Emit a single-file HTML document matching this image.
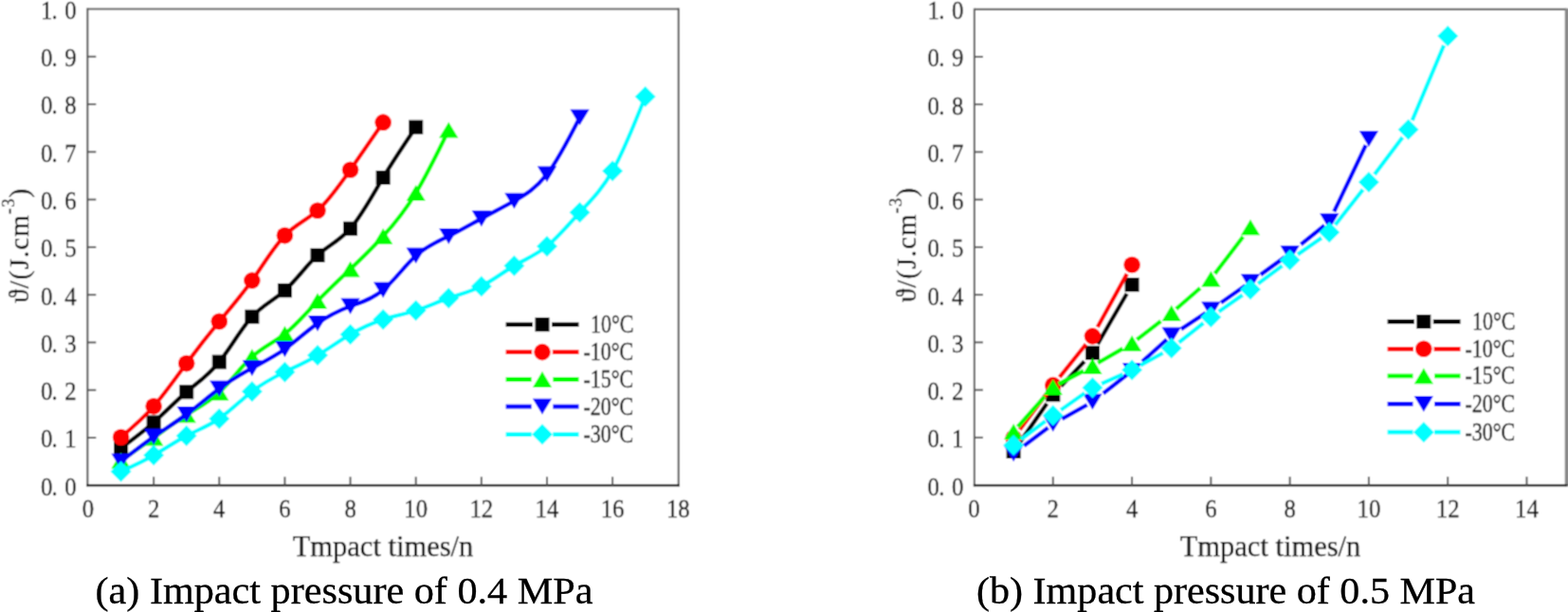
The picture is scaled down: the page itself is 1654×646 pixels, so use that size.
<!DOCTYPE html>
<html><head><meta charset="utf-8"><title>Impact pressure charts</title>
<style>
html,body{margin:0;padding:0;background:#fff;}
body{width:1654px;height:646px;overflow:hidden;}
svg{display:block;}
#w{width:1654px;height:646px;}
text{font-family:"Liberation Serif","DejaVu Serif",serif;fill:#1a1a1a;}
.tk{font-size:27.5px;fill:#111;stroke:#111;stroke-width:0.3px;}
.lg{font-size:26.5px;fill:#000;stroke:#000;stroke-width:0.3px;}
.xt{font-size:30.5px;fill:#000;stroke:#000;stroke-width:0.25px;}
.yt{font-size:29px;fill:#000;stroke:#000;stroke-width:0.25px;}
.sup{font-size:18px;}
.cap{font-size:41px;fill:#000;stroke:#000;stroke-width:0.3px;}
</style></head>
<body>
<div id="w">
<svg width="1654" height="646" viewBox="0 0 1654 646">
<defs><filter id="bl" x="0" y="0" width="1654" height="646" filterUnits="userSpaceOnUse"><feConvolveMatrix order="3" kernelMatrix="1 2 1 2 5 2 1 2 1" divisor="17" edgeMode="duplicate" preserveAlpha="true"/></filter></defs>
<rect width="1654" height="646" fill="#fff"/>
<g filter="url(#bl)">
<rect width="1654" height="646" fill="#fff"/>
<line x1="92.3" y1="9.5" x2="715.8" y2="9.5" stroke="#606060" stroke-width="2.2"/>
<line x1="92.3" y1="8.5" x2="92.3" y2="513.3" stroke="#606060" stroke-width="2.2"/>
<line x1="715.8" y1="8.5" x2="715.8" y2="513.3" stroke="#606060" stroke-width="2.2"/>
<line x1="91.3" y1="512.3" x2="716.8" y2="512.3" stroke="#1a1a1a" stroke-width="2.5"/>
<line x1="92.3" y1="462.02" x2="101.3" y2="462.02" stroke="#555" stroke-width="2"/>
<line x1="92.3" y1="411.74" x2="101.3" y2="411.74" stroke="#555" stroke-width="2"/>
<line x1="92.3" y1="361.46" x2="101.3" y2="361.46" stroke="#555" stroke-width="2"/>
<line x1="92.3" y1="311.18" x2="101.3" y2="311.18" stroke="#555" stroke-width="2"/>
<line x1="92.3" y1="260.90" x2="101.3" y2="260.90" stroke="#555" stroke-width="2"/>
<line x1="92.3" y1="210.62" x2="101.3" y2="210.62" stroke="#555" stroke-width="2"/>
<line x1="92.3" y1="160.34" x2="101.3" y2="160.34" stroke="#555" stroke-width="2"/>
<line x1="92.3" y1="110.06" x2="101.3" y2="110.06" stroke="#555" stroke-width="2"/>
<line x1="92.3" y1="59.78" x2="101.3" y2="59.78" stroke="#555" stroke-width="2"/>
<line x1="162.14" y1="512.3" x2="162.14" y2="503.29999999999995" stroke="#555" stroke-width="2"/>
<line x1="231.28" y1="512.3" x2="231.28" y2="503.29999999999995" stroke="#555" stroke-width="2"/>
<line x1="300.42" y1="512.3" x2="300.42" y2="503.29999999999995" stroke="#555" stroke-width="2"/>
<line x1="369.56" y1="512.3" x2="369.56" y2="503.29999999999995" stroke="#555" stroke-width="2"/>
<line x1="438.70" y1="512.3" x2="438.70" y2="503.29999999999995" stroke="#555" stroke-width="2"/>
<line x1="507.84" y1="512.3" x2="507.84" y2="503.29999999999995" stroke="#555" stroke-width="2"/>
<line x1="576.98" y1="512.3" x2="576.98" y2="503.29999999999995" stroke="#555" stroke-width="2"/>
<line x1="646.12" y1="512.3" x2="646.12" y2="503.29999999999995" stroke="#555" stroke-width="2"/>
<text class="tk" x="-54.89 -41.89 -26.67" y="0" transform="translate(92.3,522.70) scale(0.9,1)">0.0</text>
<text class="tk" x="-54.89 -41.89 -26.67" y="0" transform="translate(92.3,472.42) scale(0.9,1)">0.1</text>
<text class="tk" x="-54.89 -41.89 -26.67" y="0" transform="translate(92.3,422.14) scale(0.9,1)">0.2</text>
<text class="tk" x="-54.89 -41.89 -26.67" y="0" transform="translate(92.3,371.86) scale(0.9,1)">0.3</text>
<text class="tk" x="-54.89 -41.89 -26.67" y="0" transform="translate(92.3,321.58) scale(0.9,1)">0.4</text>
<text class="tk" x="-54.89 -41.89 -26.67" y="0" transform="translate(92.3,271.30) scale(0.9,1)">0.5</text>
<text class="tk" x="-54.89 -41.89 -26.67" y="0" transform="translate(92.3,221.02) scale(0.9,1)">0.6</text>
<text class="tk" x="-54.89 -41.89 -26.67" y="0" transform="translate(92.3,170.74) scale(0.9,1)">0.7</text>
<text class="tk" x="-54.89 -41.89 -26.67" y="0" transform="translate(92.3,120.46) scale(0.9,1)">0.8</text>
<text class="tk" x="-54.89 -41.89 -26.67" y="0" transform="translate(92.3,70.18) scale(0.9,1)">0.9</text>
<text class="tk" x="-54.89 -41.89 -26.67" y="0" transform="translate(92.3,19.90) scale(0.9,1)">1.0</text>
<text class="tk" x="0" y="0" text-anchor="middle" transform="translate(93.00,546) scale(0.9,1)">0</text>
<text class="tk" x="0" y="0" text-anchor="middle" transform="translate(162.14,546) scale(0.9,1)">2</text>
<text class="tk" x="0" y="0" text-anchor="middle" transform="translate(231.28,546) scale(0.9,1)">4</text>
<text class="tk" x="0" y="0" text-anchor="middle" transform="translate(300.42,546) scale(0.9,1)">6</text>
<text class="tk" x="0" y="0" text-anchor="middle" transform="translate(369.56,546) scale(0.9,1)">8</text>
<text class="tk" x="0" y="0" text-anchor="middle" transform="translate(438.70,546) scale(0.9,1)">10</text>
<text class="tk" x="0" y="0" text-anchor="middle" transform="translate(507.84,546) scale(0.9,1)">12</text>
<text class="tk" x="0" y="0" text-anchor="middle" transform="translate(576.98,546) scale(0.9,1)">14</text>
<text class="tk" x="0" y="0" text-anchor="middle" transform="translate(646.12,546) scale(0.9,1)">16</text>
<text class="tk" x="0" y="0" text-anchor="middle" transform="translate(715.26,546) scale(0.9,1)">18</text>
<path d="M127.57,473.08 C139.09,464.64 150.62,456.19 162.14,445.93 C173.66,435.67 185.19,423.59 196.71,413.75 C208.23,403.91 219.76,396.30 231.28,382.07 C242.80,367.85 254.33,347.00 265.85,334.31 C277.37,321.62 288.90,317.08 300.42,306.65 C311.94,296.23 323.47,279.92 334.99,269.45 C346.51,258.98 358.04,254.35 369.56,241.29 C381.08,228.23 392.61,206.75 404.13,187.49 C415.65,168.24 427.18,151.22 438.70,134.19" fill="none" stroke="#000000" stroke-width="4.4" stroke-linejoin="round"/>
<rect x="120.07" y="465.58" width="15.0" height="15.0" fill="#000000"/>
<rect x="154.64" y="438.43" width="15.0" height="15.0" fill="#000000"/>
<rect x="189.21" y="406.25" width="15.0" height="15.0" fill="#000000"/>
<rect x="223.78" y="374.57" width="15.0" height="15.0" fill="#000000"/>
<rect x="258.35" y="326.81" width="15.0" height="15.0" fill="#000000"/>
<rect x="292.92" y="299.15" width="15.0" height="15.0" fill="#000000"/>
<rect x="327.49" y="261.95" width="15.0" height="15.0" fill="#000000"/>
<rect x="362.06" y="233.79" width="15.0" height="15.0" fill="#000000"/>
<rect x="396.63" y="179.99" width="15.0" height="15.0" fill="#000000"/>
<rect x="431.20" y="126.69" width="15.0" height="15.0" fill="#000000"/>
<path d="M127.57,461.52 C139.09,451.74 150.62,441.97 162.14,428.84 C173.66,415.70 185.19,399.20 196.71,383.58 C208.23,367.97 219.76,353.24 231.28,339.34 C242.80,325.43 254.33,312.35 265.85,296.10 C277.37,279.85 288.90,260.43 300.42,248.58 C311.94,236.73 323.47,232.44 334.99,222.18 C346.51,211.93 358.04,195.69 369.56,179.19 C381.08,162.70 392.61,145.93 404.13,129.17" fill="none" stroke="#ff0000" stroke-width="4.4" stroke-linejoin="round"/>
<circle cx="127.57" cy="461.52" r="8.8" fill="#ff0000"/>
<circle cx="162.14" cy="428.84" r="8.8" fill="#ff0000"/>
<circle cx="196.71" cy="383.58" r="8.8" fill="#ff0000"/>
<circle cx="231.28" cy="339.34" r="8.8" fill="#ff0000"/>
<circle cx="265.85" cy="296.10" r="8.8" fill="#ff0000"/>
<circle cx="300.42" cy="248.58" r="8.8" fill="#ff0000"/>
<circle cx="334.99" cy="222.18" r="8.8" fill="#ff0000"/>
<circle cx="369.56" cy="179.19" r="8.8" fill="#ff0000"/>
<circle cx="404.13" cy="129.17" r="8.8" fill="#ff0000"/>
<path d="M127.57,486.15 C139.09,478.24 150.62,470.33 162.14,462.02 C173.66,453.71 185.19,445.02 196.71,437.89 C208.23,430.76 219.76,425.19 231.28,414.25 C242.80,403.32 254.33,387.00 265.85,376.54 C277.37,366.08 288.90,361.48 300.42,352.41 C311.94,343.34 323.47,329.82 334.99,317.72 C346.51,305.61 358.04,294.94 369.56,284.03 C381.08,273.12 392.61,261.99 404.13,249.34 C415.65,236.69 427.18,222.52 438.70,203.58 C450.22,184.64 461.75,160.93 473.27,137.21" fill="none" stroke="#00ff00" stroke-width="4.4" stroke-linejoin="round"/>
<polygon points="127.57,477.75 137.72,494.55 117.42,494.55" fill="#00ff00"/>
<polygon points="162.14,453.62 172.29,470.42 151.99,470.42" fill="#00ff00"/>
<polygon points="196.71,429.49 206.86,446.29 186.56,446.29" fill="#00ff00"/>
<polygon points="231.28,405.85 241.43,422.65 221.13,422.65" fill="#00ff00"/>
<polygon points="265.85,368.14 276.00,384.94 255.70,384.94" fill="#00ff00"/>
<polygon points="300.42,344.01 310.57,360.81 290.27,360.81" fill="#00ff00"/>
<polygon points="334.99,309.32 345.14,326.12 324.84,326.12" fill="#00ff00"/>
<polygon points="369.56,275.63 379.71,292.43 359.41,292.43" fill="#00ff00"/>
<polygon points="404.13,240.94 414.28,257.74 393.98,257.74" fill="#00ff00"/>
<polygon points="438.70,195.18 448.85,211.98 428.55,211.98" fill="#00ff00"/>
<polygon points="473.27,128.81 483.42,145.61 463.12,145.61" fill="#00ff00"/>
<path d="M127.57,487.16 C139.09,478.11 150.62,469.05 162.14,461.01 C173.66,452.97 185.19,445.95 196.71,437.38 C208.23,428.82 219.76,418.72 231.28,410.23 C242.80,401.74 254.33,394.87 265.85,388.61 C277.37,382.35 288.90,376.71 300.42,368.50 C311.94,360.29 323.47,349.52 334.99,341.35 C346.51,333.17 358.04,327.59 369.56,323.25 C381.08,318.90 392.61,315.79 404.13,306.15 C415.65,296.51 427.18,280.33 438.70,269.95 C450.22,259.57 461.75,254.97 473.27,249.34 C484.79,243.70 496.32,237.02 507.84,230.73 C519.36,224.44 530.89,218.55 542.41,212.13 C553.93,205.71 565.46,198.77 576.98,183.97 C588.50,169.18 600.03,146.53 611.55,123.89" fill="none" stroke="#0000ff" stroke-width="4.4" stroke-linejoin="round"/>
<polygon points="127.57,495.56 137.72,478.76 117.42,478.76" fill="#0000ff"/>
<polygon points="162.14,469.41 172.29,452.61 151.99,452.61" fill="#0000ff"/>
<polygon points="196.71,445.78 206.86,428.98 186.56,428.98" fill="#0000ff"/>
<polygon points="231.28,418.63 241.43,401.83 221.13,401.83" fill="#0000ff"/>
<polygon points="265.85,397.01 276.00,380.21 255.70,380.21" fill="#0000ff"/>
<polygon points="300.42,376.90 310.57,360.10 290.27,360.10" fill="#0000ff"/>
<polygon points="334.99,349.75 345.14,332.95 324.84,332.95" fill="#0000ff"/>
<polygon points="369.56,331.65 379.71,314.85 359.41,314.85" fill="#0000ff"/>
<polygon points="404.13,314.55 414.28,297.75 393.98,297.75" fill="#0000ff"/>
<polygon points="438.70,278.35 448.85,261.55 428.55,261.55" fill="#0000ff"/>
<polygon points="473.27,257.74 483.42,240.94 463.12,240.94" fill="#0000ff"/>
<polygon points="507.84,239.13 517.99,222.33 497.69,222.33" fill="#0000ff"/>
<polygon points="542.41,220.53 552.56,203.73 532.26,203.73" fill="#0000ff"/>
<polygon points="576.98,192.37 587.13,175.57 566.83,175.57" fill="#0000ff"/>
<polygon points="611.55,132.29 621.70,115.49 601.40,115.49" fill="#0000ff"/>
<path d="M127.57,497.72 C139.09,492.47 150.62,487.23 162.14,480.62 C173.66,474.02 185.19,466.05 196.71,460.01 C208.23,453.97 219.76,449.86 231.28,441.91 C242.80,433.96 254.33,422.18 265.85,413.25 C277.37,404.32 288.90,398.25 300.42,392.63 C311.94,387.02 323.47,381.86 334.99,375.04 C346.51,368.21 358.04,359.72 369.56,352.91 C381.08,346.10 392.61,340.97 404.13,337.33 C415.65,333.68 427.18,331.51 438.70,327.77 C450.22,324.03 461.75,318.71 473.27,314.70 C484.79,310.69 496.32,307.98 507.84,302.13 C519.36,296.28 530.89,287.29 542.41,280.51 C553.93,273.73 565.46,269.15 576.98,259.89 C588.50,250.64 600.03,236.71 611.55,224.20 C623.07,211.68 634.60,200.58 646.12,180.45 C657.64,160.32 669.17,131.17 680.69,102.02" fill="none" stroke="#00ffff" stroke-width="4.4" stroke-linejoin="round"/>
<polygon points="127.57,486.72 138.57,497.72 127.57,508.72 116.57,497.72" fill="#00ffff"/>
<polygon points="162.14,469.62 173.14,480.62 162.14,491.62 151.14,480.62" fill="#00ffff"/>
<polygon points="196.71,449.01 207.71,460.01 196.71,471.01 185.71,460.01" fill="#00ffff"/>
<polygon points="231.28,430.91 242.28,441.91 231.28,452.91 220.28,441.91" fill="#00ffff"/>
<polygon points="265.85,402.25 276.85,413.25 265.85,424.25 254.85,413.25" fill="#00ffff"/>
<polygon points="300.42,381.63 311.42,392.63 300.42,403.63 289.42,392.63" fill="#00ffff"/>
<polygon points="334.99,364.04 345.99,375.04 334.99,386.04 323.99,375.04" fill="#00ffff"/>
<polygon points="369.56,341.91 380.56,352.91 369.56,363.91 358.56,352.91" fill="#00ffff"/>
<polygon points="404.13,326.33 415.13,337.33 404.13,348.33 393.13,337.33" fill="#00ffff"/>
<polygon points="438.70,316.77 449.70,327.77 438.70,338.77 427.70,327.77" fill="#00ffff"/>
<polygon points="473.27,303.70 484.27,314.70 473.27,325.70 462.27,314.70" fill="#00ffff"/>
<polygon points="507.84,291.13 518.84,302.13 507.84,313.13 496.84,302.13" fill="#00ffff"/>
<polygon points="542.41,269.51 553.41,280.51 542.41,291.51 531.41,280.51" fill="#00ffff"/>
<polygon points="576.98,248.89 587.98,259.89 576.98,270.89 565.98,259.89" fill="#00ffff"/>
<polygon points="611.55,213.20 622.55,224.20 611.55,235.20 600.55,224.20" fill="#00ffff"/>
<polygon points="646.12,169.45 657.12,180.45 646.12,191.45 635.12,180.45" fill="#00ffff"/>
<polygon points="680.69,91.02 691.69,102.02 680.69,113.02 669.69,102.02" fill="#00ffff"/>
<path d="M533.6,342.6 H562.00 M582.00,342.6 H610.5" stroke="#000000" stroke-width="4.800000000000001" fill="none"/>
<rect x="564.50" y="335.10" width="15.0" height="15.0" fill="#000000"/>
<text class="lg" x="0" y="0" transform="translate(622.9,351.00) scale(0.83,1)">10°C</text>
<path d="M533.6,371.6 H561.20 M582.80,371.6 H610.5" stroke="#ff0000" stroke-width="4.800000000000001" fill="none"/>
<circle cx="572.00" cy="371.60" r="8.8" fill="#ff0000"/>
<text class="lg" x="0" y="0" transform="translate(615.4,380.00) scale(0.83,1)">-10°C</text>
<path d="M533.6,400.5 H560.65 M583.35,400.5 H610.5" stroke="#00ff00" stroke-width="4.800000000000001" fill="none"/>
<polygon points="572.00,392.10 582.15,408.90 561.85,408.90" fill="#00ff00"/>
<text class="lg" x="0" y="0" transform="translate(615.4,408.90) scale(0.83,1)">-15°C</text>
<path d="M533.6,429.2 H560.65 M583.35,429.2 H610.5" stroke="#0000ff" stroke-width="4.800000000000001" fill="none"/>
<polygon points="572.00,437.60 582.15,420.80 561.85,420.80" fill="#0000ff"/>
<text class="lg" x="0" y="0" transform="translate(615.4,437.60) scale(0.83,1)">-20°C</text>
<path d="M533.6,458.6 H560.70 M583.30,458.6 H610.5" stroke="#00ffff" stroke-width="4.800000000000001" fill="none"/>
<polygon points="572.00,447.60 583.00,458.60 572.00,469.60 561.00,458.60" fill="#00ffff"/>
<text class="lg" x="0" y="0" transform="translate(615.4,467.00) scale(0.83,1)">-30°C</text>
<line x1="1027.9" y1="9.8" x2="1652.3" y2="9.8" stroke="#606060" stroke-width="2.2"/>
<line x1="1027.9" y1="8.8" x2="1027.9" y2="513.2" stroke="#606060" stroke-width="2.2"/>
<line x1="1652.3" y1="8.8" x2="1652.3" y2="513.2" stroke="#858585" stroke-width="3.2"/>
<line x1="1026.9" y1="512.2" x2="1653.3" y2="512.2" stroke="#1a1a1a" stroke-width="2.5"/>
<line x1="1027.9" y1="461.86" x2="1036.9" y2="461.86" stroke="#555" stroke-width="2"/>
<line x1="1027.9" y1="411.62" x2="1036.9" y2="411.62" stroke="#555" stroke-width="2"/>
<line x1="1027.9" y1="361.38" x2="1036.9" y2="361.38" stroke="#555" stroke-width="2"/>
<line x1="1027.9" y1="311.14" x2="1036.9" y2="311.14" stroke="#555" stroke-width="2"/>
<line x1="1027.9" y1="260.90" x2="1036.9" y2="260.90" stroke="#555" stroke-width="2"/>
<line x1="1027.9" y1="210.66" x2="1036.9" y2="210.66" stroke="#555" stroke-width="2"/>
<line x1="1027.9" y1="160.42" x2="1036.9" y2="160.42" stroke="#555" stroke-width="2"/>
<line x1="1027.9" y1="110.18" x2="1036.9" y2="110.18" stroke="#555" stroke-width="2"/>
<line x1="1027.9" y1="59.94" x2="1036.9" y2="59.94" stroke="#555" stroke-width="2"/>
<line x1="1110.78" y1="512.2" x2="1110.78" y2="503.20000000000005" stroke="#555" stroke-width="2"/>
<line x1="1194.06" y1="512.2" x2="1194.06" y2="503.20000000000005" stroke="#555" stroke-width="2"/>
<line x1="1277.34" y1="512.2" x2="1277.34" y2="503.20000000000005" stroke="#555" stroke-width="2"/>
<line x1="1360.62" y1="512.2" x2="1360.62" y2="503.20000000000005" stroke="#555" stroke-width="2"/>
<line x1="1443.90" y1="512.2" x2="1443.90" y2="503.20000000000005" stroke="#555" stroke-width="2"/>
<line x1="1527.18" y1="512.2" x2="1527.18" y2="503.20000000000005" stroke="#555" stroke-width="2"/>
<line x1="1610.46" y1="512.2" x2="1610.46" y2="503.20000000000005" stroke="#555" stroke-width="2"/>
<text class="tk" x="-54.89 -41.89 -26.67" y="0" transform="translate(1027.9,522.50) scale(0.9,1)">0.0</text>
<text class="tk" x="-54.89 -41.89 -26.67" y="0" transform="translate(1027.9,472.26) scale(0.9,1)">0.1</text>
<text class="tk" x="-54.89 -41.89 -26.67" y="0" transform="translate(1027.9,422.02) scale(0.9,1)">0.2</text>
<text class="tk" x="-54.89 -41.89 -26.67" y="0" transform="translate(1027.9,371.78) scale(0.9,1)">0.3</text>
<text class="tk" x="-54.89 -41.89 -26.67" y="0" transform="translate(1027.9,321.54) scale(0.9,1)">0.4</text>
<text class="tk" x="-54.89 -41.89 -26.67" y="0" transform="translate(1027.9,271.30) scale(0.9,1)">0.5</text>
<text class="tk" x="-54.89 -41.89 -26.67" y="0" transform="translate(1027.9,221.06) scale(0.9,1)">0.6</text>
<text class="tk" x="-54.89 -41.89 -26.67" y="0" transform="translate(1027.9,170.82) scale(0.9,1)">0.7</text>
<text class="tk" x="-54.89 -41.89 -26.67" y="0" transform="translate(1027.9,120.58) scale(0.9,1)">0.8</text>
<text class="tk" x="-54.89 -41.89 -26.67" y="0" transform="translate(1027.9,70.34) scale(0.9,1)">0.9</text>
<text class="tk" x="-54.89 -41.89 -26.67" y="0" transform="translate(1027.9,20.10) scale(0.9,1)">1.0</text>
<text class="tk" x="0" y="0" text-anchor="middle" transform="translate(1027.50,546) scale(0.9,1)">0</text>
<text class="tk" x="0" y="0" text-anchor="middle" transform="translate(1110.78,546) scale(0.9,1)">2</text>
<text class="tk" x="0" y="0" text-anchor="middle" transform="translate(1194.06,546) scale(0.9,1)">4</text>
<text class="tk" x="0" y="0" text-anchor="middle" transform="translate(1277.34,546) scale(0.9,1)">6</text>
<text class="tk" x="0" y="0" text-anchor="middle" transform="translate(1360.62,546) scale(0.9,1)">8</text>
<text class="tk" x="0" y="0" text-anchor="middle" transform="translate(1443.90,546) scale(0.9,1)">10</text>
<text class="tk" x="0" y="0" text-anchor="middle" transform="translate(1527.18,546) scale(0.9,1)">12</text>
<text class="tk" x="0" y="0" text-anchor="middle" transform="translate(1610.46,546) scale(0.9,1)">14</text>
<path d="M1075.62,467.12 L1104.30,425.95 M1119.35,407.54 L1143.85,381.53 M1157.87,363.03 L1188.61,309.99" fill="none" stroke="#000000" stroke-width="4.4" stroke-linecap="butt"/>
<rect x="1061.64" y="468.93" width="15.0" height="15.0" fill="#000000"/>
<rect x="1103.28" y="409.14" width="15.0" height="15.0" fill="#000000"/>
<rect x="1144.92" y="364.93" width="15.0" height="15.0" fill="#000000"/>
<rect x="1186.56" y="293.09" width="15.0" height="15.0" fill="#000000"/>
<path d="M1075.72,453.55 L1104.20,415.41 M1117.68,398.03 L1145.52,363.42 M1157.74,345.22 L1188.74,289.12" fill="none" stroke="#ff0000" stroke-width="4.4" stroke-linecap="butt"/>
<circle cx="1069.14" cy="462.36" r="8.8" fill="#ff0000"/>
<circle cx="1110.78" cy="406.60" r="8.8" fill="#ff0000"/>
<circle cx="1152.42" cy="354.85" r="8.8" fill="#ff0000"/>
<circle cx="1194.06" cy="279.49" r="8.8" fill="#ff0000"/>
<path d="M1073.62,450.53 L1101.87,418.65 M1116.57,405.53 L1143.01,391.50 M1158.08,383.22 L1184.35,368.01 M1199.28,358.39 L1224.51,339.06 M1240.69,326.15 L1266.01,304.15 M1281.51,288.85 L1311.23,249.95" fill="none" stroke="#00ff00" stroke-width="4.4" stroke-linecap="butt"/>
<polygon points="1069.14,447.18 1079.29,463.98 1058.99,463.98" fill="#00ff00"/>
<polygon points="1110.78,400.21 1120.93,417.01 1100.63,417.01" fill="#00ff00"/>
<polygon points="1152.42,378.10 1162.57,394.90 1142.27,394.90" fill="#00ff00"/>
<polygon points="1194.06,353.98 1204.21,370.78 1183.91,370.78" fill="#00ff00"/>
<polygon points="1235.70,322.08 1245.85,338.88 1225.55,338.88" fill="#00ff00"/>
<polygon points="1277.34,285.91 1287.49,302.71 1267.19,302.71" fill="#00ff00"/>
<polygon points="1318.98,231.40 1329.13,248.20 1308.83,248.20" fill="#00ff00"/>
<path d="M1080.24,470.54 L1105.54,451.40 M1120.36,442.09 L1146.70,427.37 M1163.80,415.26 L1188.89,395.58 M1205.01,381.65 L1230.78,358.43 M1245.91,347.34 L1271.86,330.44 M1287.94,319.43 L1313.61,301.44 M1329.78,289.86 L1355.31,271.38 M1372.28,258.08 L1397.14,237.92 M1407.22,223.39 L1440.71,153.28" fill="none" stroke="#0000ff" stroke-width="4.4" stroke-linecap="butt"/>
<polygon points="1069.14,487.34 1079.29,470.54 1058.99,470.54" fill="#0000ff"/>
<polygon points="1110.78,455.84 1120.93,439.04 1100.63,439.04" fill="#0000ff"/>
<polygon points="1152.42,432.58 1162.57,415.78 1142.27,415.78" fill="#0000ff"/>
<polygon points="1194.06,399.92 1204.21,383.12 1183.91,383.12" fill="#0000ff"/>
<polygon points="1235.70,362.39 1245.85,345.59 1225.55,345.59" fill="#0000ff"/>
<polygon points="1277.34,335.27 1287.49,318.47 1267.19,318.47" fill="#0000ff"/>
<polygon points="1318.98,306.08 1329.13,289.28 1308.83,289.28" fill="#0000ff"/>
<polygon points="1360.62,275.93 1370.77,259.13 1350.47,259.13" fill="#0000ff"/>
<polygon points="1402.26,242.17 1412.41,225.37 1392.11,225.37" fill="#0000ff"/>
<polygon points="1443.90,155.00 1454.05,138.20 1433.75,138.20" fill="#0000ff"/>
<path d="M1077.17,463.84 L1102.75,444.55 M1119.04,432.70 L1144.16,415.06 M1162.03,404.96 L1184.45,394.92 M1203.07,385.64 L1226.69,372.59 M1243.58,361.40 L1269.46,340.97 M1285.61,328.96 L1310.71,311.40 M1327.03,299.59 L1352.57,280.49 M1368.89,268.67 L1393.99,251.12 M1408.45,237.43 L1437.71,200.07 M1449.94,184.14 L1479.50,144.84 M1489.66,127.04 L1523.06,47.85" fill="none" stroke="#00ffff" stroke-width="4.4" stroke-linecap="butt"/>
<polygon points="1069.14,458.90 1080.14,469.90 1069.14,480.90 1058.14,469.90" fill="#00ffff"/>
<polygon points="1110.78,427.50 1121.78,438.50 1110.78,449.50 1099.78,438.50" fill="#00ffff"/>
<polygon points="1152.42,398.26 1163.42,409.26 1152.42,420.26 1141.42,409.26" fill="#00ffff"/>
<polygon points="1194.06,379.62 1205.06,390.62 1194.06,401.62 1183.06,390.62" fill="#00ffff"/>
<polygon points="1235.70,356.61 1246.70,367.61 1235.70,378.61 1224.70,367.61" fill="#00ffff"/>
<polygon points="1277.34,323.75 1288.34,334.75 1277.34,345.75 1266.34,334.75" fill="#00ffff"/>
<polygon points="1318.98,294.61 1329.98,305.61 1318.98,316.61 1307.98,305.61" fill="#00ffff"/>
<polygon points="1360.62,263.46 1371.62,274.46 1360.62,285.46 1349.62,274.46" fill="#00ffff"/>
<polygon points="1402.26,234.33 1413.26,245.33 1402.26,256.33 1391.26,245.33" fill="#00ffff"/>
<polygon points="1443.90,181.17 1454.90,192.17 1443.90,203.17 1432.90,192.17" fill="#00ffff"/>
<polygon points="1485.54,125.81 1496.54,136.81 1485.54,147.81 1474.54,136.81" fill="#00ffff"/>
<polygon points="1527.18,27.09 1538.18,38.09 1527.18,49.09 1516.18,38.09" fill="#00ffff"/>
<path d="M1463.6,339.5 H1491.80 M1511.80,339.5 H1540.5" stroke="#000000" stroke-width="4.800000000000001" fill="none"/>
<rect x="1494.30" y="332.00" width="15.0" height="15.0" fill="#000000"/>
<text class="lg" x="0" y="0" transform="translate(1552.9,347.90) scale(0.83,1)">10°C</text>
<path d="M1463.6,368.3 H1491.00 M1512.60,368.3 H1540.5" stroke="#ff0000" stroke-width="4.800000000000001" fill="none"/>
<circle cx="1501.80" cy="368.30" r="8.8" fill="#ff0000"/>
<text class="lg" x="0" y="0" transform="translate(1545.4,376.70) scale(0.83,1)">-10°C</text>
<path d="M1463.6,396.9 H1490.45 M1513.15,396.9 H1540.5" stroke="#00ff00" stroke-width="4.800000000000001" fill="none"/>
<polygon points="1501.80,388.50 1511.95,405.30 1491.65,405.30" fill="#00ff00"/>
<text class="lg" x="0" y="0" transform="translate(1545.4,405.30) scale(0.83,1)">-15°C</text>
<path d="M1463.6,426.4 H1490.45 M1513.15,426.4 H1540.5" stroke="#0000ff" stroke-width="4.800000000000001" fill="none"/>
<polygon points="1501.80,434.80 1511.95,418.00 1491.65,418.00" fill="#0000ff"/>
<text class="lg" x="0" y="0" transform="translate(1545.4,434.80) scale(0.83,1)">-20°C</text>
<path d="M1463.6,456.2 H1490.50 M1513.10,456.2 H1540.5" stroke="#00ffff" stroke-width="4.800000000000001" fill="none"/>
<polygon points="1501.80,445.20 1512.80,456.20 1501.80,467.20 1490.80,456.20" fill="#00ffff"/>
<text class="lg" x="0" y="0" transform="translate(1545.4,464.60) scale(0.83,1)">-30°C</text>
<text class="yt" transform="translate(30.3,259.5) rotate(-90)" text-anchor="middle" textLength="121" lengthAdjust="spacing">ϑ/(J.cm<tspan class="sup" dy="-15">-3</tspan><tspan dy="15">)</tspan></text>
<text class="yt" transform="translate(965.8,258.8) rotate(-90)" text-anchor="middle" textLength="121" lengthAdjust="spacing">ϑ/(J.cm<tspan class="sup" dy="-15">-3</tspan><tspan dy="15">)</tspan></text>
<text class="xt" x="404" y="586.5" text-anchor="middle">Tmpact times/n</text>
<text class="xt" x="1340" y="586.5" text-anchor="middle">Tmpact times/n</text>
</g>
<text class="cap" x="100.5" y="637.3" textLength="525" lengthAdjust="spacingAndGlyphs">(a) Impact pressure of 0.4 MPa</text>
<text class="cap" x="1030" y="637.3" textLength="526" lengthAdjust="spacingAndGlyphs">(b) Impact pressure of 0.5 MPa</text>
</svg>
</div>
</body></html>
